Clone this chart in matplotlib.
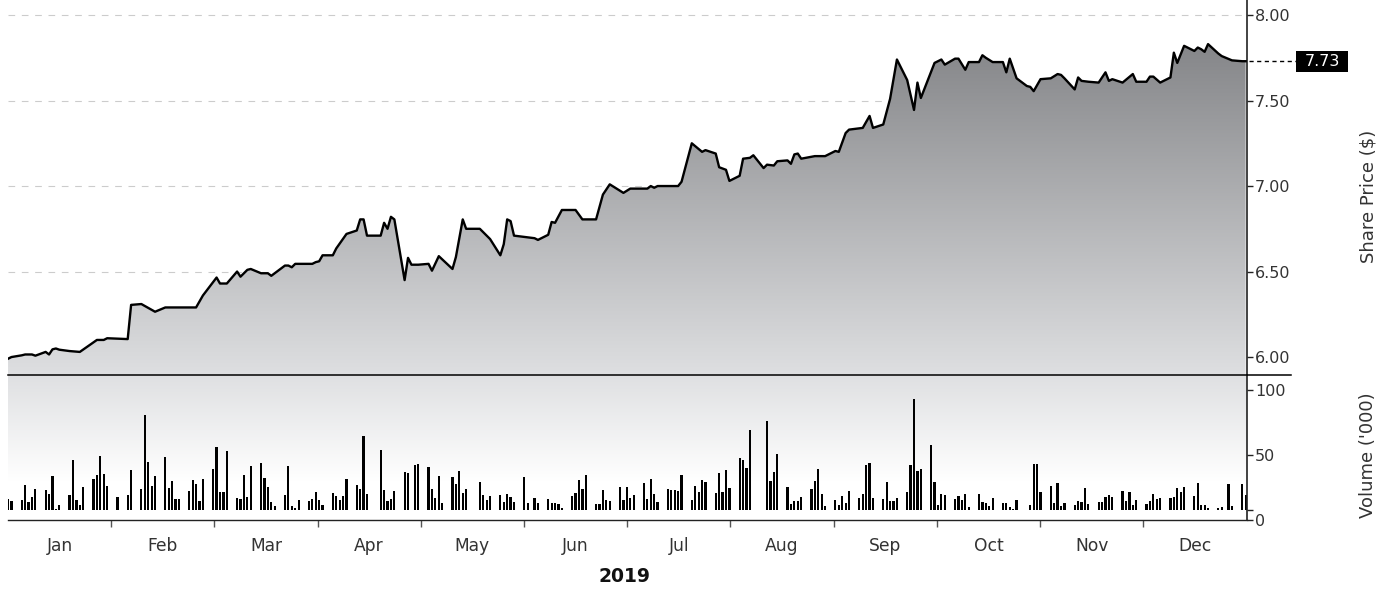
import numpy as np
import pandas as pd
import matplotlib
matplotlib.use('Agg')
from matplotlib import pyplot as plt, dates as mdates
from matplotlib.colors import LinearSegmentedColormap
from matplotlib.lines import Line2D
from matplotlib.patches import Rectangle
from matplotlib.transforms import blended_transform_factory

W, H = 1393, 589

months = ['Jan', 'Feb', 'Mar', 'Apr', 'May', 'Jun', 'Jul', 'Aug', 'Sep', 'Oct', 'Nov', 'Dec']
price_ticks = [6.00, 6.50, 7.00, 7.50, 8.00]
volume_ticks = [0, 50, 100]
last_price = 7.73

# share price, read at the turning points of the line (2019, MM-DD)
price_dates = [
    '01-03', '01-04', '01-07', '01-08', '01-10', '01-11', '01-14', '01-15', '01-16', '01-17',
    '01-18', '01-21', '01-24', '01-29', '01-31', '02-01', '02-07', '02-08', '02-11', '02-15',
    '02-18', '02-27', '03-01', '03-05', '03-06', '03-08', '03-11', '03-12', '03-14', '03-15',
    '03-18', '03-20', '03-21', '03-22', '03-25', '03-26', '03-27', '03-28', '04-02', '04-03',
    '04-04', '04-05', '04-08', '04-09', '04-12', '04-15', '04-16', '04-17', '04-18', '04-22',
    '04-23', '04-24', '04-25', '04-26', '04-29', '04-30', '05-01', '05-03', '05-06', '05-07',
    '05-09', '05-13', '05-14', '05-16', '05-17', '05-21', '05-23', '05-24', '05-27', '05-28',
    '05-29', '05-30', '05-31', '06-04', '06-06', '06-07', '06-10', '06-11', '06-12', '06-14',
    '06-18', '06-20', '06-24', '06-26', '06-28', '07-02', '07-04', '07-09', '07-10', '07-11',
    '07-12', '07-18', '07-19', '07-22', '07-25', '07-26', '07-29', '07-30', '08-01', '08-02',
    '08-05', '08-06', '08-08', '08-09', '08-12', '08-13', '08-15', '08-16', '08-19', '08-20',
    '08-21', '08-22', '08-23', '08-27', '08-30', '09-02', '09-03', '09-05', '09-06', '09-10',
    '09-12', '09-13', '09-16', '09-18', '09-20', '09-23', '09-25', '09-26', '09-27', '09-30',
    '10-01', '10-03', '10-04', '10-07', '10-08', '10-10', '10-11', '10-14', '10-15', '10-16',
    '10-18', '10-21', '10-22', '10-23', '10-25', '10-28', '10-29', '10-30', '11-01', '11-04',
    '11-06', '11-07', '11-08', '11-11', '11-12', '11-13', '11-15', '11-18', '11-20', '11-21',
    '11-22', '11-25', '11-28', '11-29', '12-02', '12-03', '12-04', '12-06', '12-09', '12-10',
    '12-11', '12-13', '12-16', '12-17', '12-18', '12-19', '12-20', '12-23', '12-24', '12-27',
    '12-30', '12-31',
]
price = [
    5.99, 6.00, 6.01, 6.015, 6.015, 6.008, 6.03, 6.015, 6.045, 6.05,
    6.043, 6.035, 6.03, 6.10, 6.10, 6.11, 6.105, 6.305, 6.31, 6.265,
    6.29, 6.29, 6.36, 6.465, 6.43, 6.43, 6.50, 6.47, 6.51, 6.515,
    6.49, 6.49, 6.475, 6.49, 6.535, 6.535, 6.525, 6.545, 6.545, 6.555,
    6.56, 6.595, 6.595, 6.635, 6.72, 6.74, 6.805, 6.805, 6.71, 6.71,
    6.785, 6.75, 6.82, 6.805, 6.45, 6.58, 6.54, 6.54, 6.545, 6.505,
    6.59, 6.515, 6.585, 6.805, 6.75, 6.75, 6.71, 6.69, 6.595, 6.66,
    6.805, 6.795, 6.71, 6.70, 6.695, 6.685, 6.715, 6.79, 6.785, 6.86,
    6.86, 6.805, 6.805, 6.95, 7.01, 6.96, 6.985, 6.985, 7.00, 6.99,
    7.00, 7.00, 7.025, 7.25, 7.20, 7.21, 7.19, 7.11, 7.095, 7.03,
    7.06, 7.16, 7.165, 7.18, 7.105, 7.125, 7.12, 7.145, 7.15, 7.13,
    7.185, 7.19, 7.16, 7.175, 7.175, 7.205, 7.20, 7.31, 7.33, 7.34,
    7.41, 7.34, 7.36, 7.51, 7.74, 7.62, 7.445, 7.605, 7.515, 7.67,
    7.72, 7.74, 7.71, 7.745, 7.745, 7.68, 7.725, 7.725, 7.765, 7.75,
    7.725, 7.725, 7.665, 7.745, 7.63, 7.585, 7.58, 7.555, 7.625, 7.63,
    7.655, 7.65, 7.63, 7.565, 7.635, 7.615, 7.61, 7.605, 7.665, 7.615,
    7.625, 7.605, 7.655, 7.61, 7.61, 7.64, 7.64, 7.605, 7.635, 7.78,
    7.72, 7.82, 7.79, 7.81, 7.80, 7.785, 7.83, 7.775, 7.76, 7.735,
    7.73, 7.73,
]

# volume ('000), every weekday from 3 Jan to 31 Dec, 0 = no trades
volume = [
    16.0, 14.6,                      # Jan 3
    15.4, 27.0, 13.6, 17.7, 23.8,    # Jan 7
    23.0, 20.0, 33.8, 8.5, 11.5,     # Jan 14
    19.2, 46.2, 15.4, 11.5, 25.4,    # Jan 21
    31.5, 34.6, 49.2, 35.4, 26.2,    # Jan 28
    17.7, 0, 0, 19.2, 38.5,          # Feb 4
    23.8, 80.8, 44.6, 26.2, 33.8,    # Feb 11
    48.5, 24.6, 30.0, 16.2, 16.2,    # Feb 18
    22.3, 30.8, 27.7, 14.6, 31.5,    # Feb 25
    39.2, 56.2, 21.5, 21.5, 53.0,    # Mar 4
    16.9, 16.2, 34.6, 17.7, 41.5,    # Mar 11
    43.8, 32.3, 25.4, 13.8, 10.8,    # Mar 18
    19.2, 41.5, 10.8, 9.2, 15.4,     # Mar 25
    14.6, 16.2, 21.5, 15.4, 11.5,    # Apr 1
    20.8, 18.5, 15.4, 18.5, 31.5,    # Apr 8
    27.0, 23.8, 64.6, 20.0, 0,       # Apr 15
    53.8, 23.0, 14.6, 16.2, 22.3,    # Apr 22
    36.9, 36.2, 0, 42.3, 43.1,       # Apr 29
    40.8, 23.8, 16.9, 33.8, 13.0,    # May 6
    33.0, 27.7, 37.7, 20.8, 23.8,    # May 13
    0, 29.2, 19.2, 15.4, 18.5,       # May 20
    19.2, 13.8, 20.0, 17.7, 13.8,    # May 27
    33.0, 13.1, 0, 16.9, 13.1,       # Jun 3
    16.2, 13.1, 13.1, 12.3, 9.2,     # Jun 10
    18.5, 20.8, 30.8, 23.8, 34.6,    # Jun 17
    12.3, 12.3, 23.0, 15.4, 14.6,    # Jun 24
    25.4, 15.4, 25.4, 16.9, 19.2,    # Jul 1
    28.5, 16.2, 31.5, 20.0, 13.8,    # Jul 8
    23.8, 23.0, 23.0, 22.3, 34.6,    # Jul 15
    15.4, 26.2, 21.5, 30.8, 29.2,    # Jul 22
    20.8, 36.2, 21.5, 38.5, 24.6,    # Jul 29
    47.7, 46.2, 40.0, 69.2, 0,       # Aug 5
    0, 76.2, 30.0, 36.9, 50.8,       # Aug 12
    25.4, 12.3, 14.6, 14.6, 17.7,    # Aug 19
    23.8, 30.0, 39.2, 20.0, 10.8,    # Aug 26
    15.4, 11.5, 18.5, 13.1, 22.3,    # Sep 2
    16.9, 20.0, 42.3, 43.8, 16.9,    # Sep 9
    16.2, 29.2, 14.6, 14.6, 16.9,    # Sep 16
    21.5, 42.3, 93.0, 37.7, 39.2,    # Sep 23
    57.7, 29.2, 11.5, 20.0, 19.2,    # Sep 30
    16.2, 18.5, 15.4, 20.0, 10.0,    # Oct 7
    20.0, 13.8, 13.1, 10.8, 16.9,    # Oct 14
    13.1, 13.1, 10.0, 8.5, 15.4,     # Oct 21
    0, 11.5, 43.0, 43.0, 21.5,       # Oct 28
    26.2, 13.1, 28.5, 10.8, 13.1,    # Nov 4
    11.5, 14.6, 13.8, 24.6, 12.3,    # Nov 11
    13.8, 13.8, 17.7, 19.2, 17.7,    # Nov 18
    22.3, 14.6, 21.5, 11.5, 15.4,    # Nov 25
    12.3, 14.6, 20.0, 16.2, 16.9,    # Dec 2
    16.9, 17.7, 24.6, 21.5, 25.4,    # Dec 9
    18.5, 28.5, 11.5, 11.5, 9.2,     # Dec 16
    9.2, 10.0, 0, 27.7, 10.8,        # Dec 23
    27.7, 19.2,                      # Dec 30
]

vol_days = pd.bdate_range('2019-01-03', '2019-12-31')
p_days = pd.to_datetime(['2019-' + d for d in price_dates])

xp = mdates.date2num(p_days)
xv = mdates.date2num(vol_days)[:len(volume)]
vol = np.array(volume)

x0 = mdates.date2num(pd.Timestamp('2019-01-03')) - 0.01
x1 = mdates.date2num(pd.Timestamp('2019-12-31')) + 0.25
pmin, pmax = 5.895, 8.088
vmax = 111.5
base = 8  # bars start a little above the zero line

fig = plt.figure(figsize=(W / 100, H / 100), dpi=100)
fx = lambda px: px / W
fy = lambda py: 1 - py / H

ax = fig.add_axes([fx(8), fy(375), fx(1246.5) - fx(8), fy(0) - fy(375)])
axv = fig.add_axes([fx(8), fy(520), fx(1246.5) - fx(8), fy(375) - fy(520)], sharex=ax)

# price panel: gradient under the line
poly = ax.fill_between(xp, price, pmin, facecolor='none', edgecolor='none')
grad = np.linspace(0, 1, 256).reshape(-1, 1)
cmap = LinearSegmentedColormap.from_list('fill', ['#dedfe1', '#848588'])
im = ax.imshow(grad, cmap=cmap, origin='lower', aspect='auto',
               extent=[x0, x1, pmin, 7.85], zorder=1, interpolation='bilinear')
im.set_clip_path(poly.get_paths()[0], transform=ax.transData)
ax.plot(xp, price, color='black', lw=1.7, zorder=3)

ax.set_xlim(x0, x1)
ax.set_ylim(pmin, pmax)
ax.set_yticks(price_ticks)
ax.set_yticklabels(['%.2f' % v for v in price_ticks])
ax.yaxis.tick_right()
ax.yaxis.grid(True, color='#cccccc', linestyle=(0, (6, 6)), lw=0.8)
ax.set_axisbelow(True)
ax.tick_params(axis='y', direction='out', length=4.5, width=1, color='#222222',
               labelcolor='#333333', labelsize=11.5, pad=1.5)
ax.tick_params(axis='x', which='both', bottom=False, labelbottom=False)
for s in ['top', 'left', 'bottom']:
    ax.spines[s].set_visible(False)
ax.spines['right'].set_color('#222222')
ax.spines['right'].set_linewidth(1.2)

# last price marker
trans = blended_transform_factory(fig.transFigure, ax.transData)
ax.add_line(Line2D([fx(1249), fx(1296)], [last_price] * 2, transform=trans, color='black',
                   lw=1, ls=(0, (3, 2.5)), clip_on=False))
ax.add_patch(Rectangle((fx(1296), last_price - 0.062), 52 / W, 0.124, transform=trans,
                       facecolor='black', edgecolor='none', clip_on=False))
ax.text(fx(1322), last_price, '%.2f' % last_price, transform=trans, ha='center', va='center',
        color='white', fontsize=11.5, clip_on=False)

# volume panel
yy = np.linspace(0, vmax, 200)
t = np.clip((yy - 30) / (vmax - 30), 0, 1)
top = np.array([0xdf, 0xe0, 0xe2]) / 255
bg = (1 - t[:, None] * (1 - top))[:, None, :]
axv.imshow(bg, origin='lower', aspect='auto', extent=[x0, x1, 0, vmax], zorder=0,
           interpolation='bilinear')
has = vol > base
axv.bar(xv[has], vol[has] - base, bottom=base, width=0.65, color='black', lw=0, zorder=2)

axv.set_xlim(x0, x1)
axv.set_ylim(0, vmax)
axv.yaxis.tick_right()
axv.set_yticks(volume_ticks)
axv.set_yticks([base], minor=True)
axv.tick_params(axis='y', which='both', direction='out', length=4.5, width=1, color='#222222',
                labelcolor='#333333', labelsize=11.5, pad=1.5)
axv.tick_params(axis='y', which='minor', labelright=False)

bounds = np.linspace(x0, x1, 13)
axv.set_xticks(bounds[1:-1])
axv.set_xticks((bounds[:-1] + bounds[1:]) / 2, minor=True)
axv.set_xticklabels(months, minor=True)
axv.tick_params(axis='x', which='major', length=5, width=1, color='#555555', labelbottom=False)
axv.tick_params(axis='x', which='minor', length=0, labelsize=12.3, labelcolor='#333333', pad=12)
for s in ['top', 'left']:
    axv.spines[s].set_visible(False)
for s in ['right', 'bottom']:
    axv.spines[s].set_color('#222222')
axv.spines['right'].set_linewidth(1.2)
axv.spines['bottom'].set_linewidth(1.0)

# line between the panels
fig.add_artist(Line2D([fx(8), fx(1291)], [fy(375)] * 2, transform=fig.transFigure,
                      color='black', lw=1.1))

fig.text(fx(1368), fy(196), 'Share Price ($)', rotation=90, ha='center', va='center',
         fontsize=13, color='#333333')
fig.text(fx(1368), fy(455), "Volume ('000)", rotation=90, ha='center', va='center',
         fontsize=13, color='#333333')
fig.text(fx(624), fy(576), '2019', ha='center', va='center', fontsize=13.5,
         fontweight='bold', color='#111111')

fig.savefig('out.png', dpi=100)
